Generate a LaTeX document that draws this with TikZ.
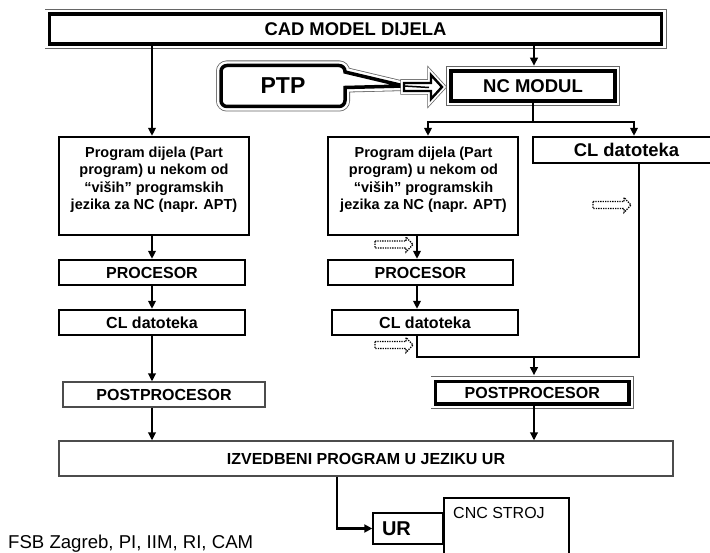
\documentclass[tikz,border=0pt]{standalone}
\usepackage{fontspec}
\setmainfont{Liberation Sans}
\usetikzlibrary{arrows.meta}
\tikzset{
  conn/.style={line width=2pt},
  arr/.style={line width=2pt,-{Triangle[length=8pt,width=7.5pt]}},
  box/.style={draw,line width=2.3pt,fill=white,inner sep=0pt,font=\fontsize{16}{19}\selectfont\bfseries},
  thinbox/.style={draw=black!70,line width=1.2pt,fill=white,inner sep=0pt,font=\fontsize{16}{19}\selectfont\bfseries},
  dblbox/.style={preaction={draw=black!60,line width=10pt},preaction={draw=white,line width=8.4pt},draw,fill=white,line width=3.5pt,inner sep=0pt},
  dblarrow/.style={preaction={draw=black!60,line width=7.5pt},preaction={draw=white,line width=6pt},draw,fill=white,line width=2.4pt},
  ptext/.style={inner sep=0pt,align=center,font=\fontsize{14.5}{17.5}\selectfont\bfseries},
  dotarr/.pic={\draw[line width=1.3pt,dash pattern=on 1.3pt off 1.1pt] (0,-3.5) -- (31,-3.5) -- (31,-7.5) -- (38,0) -- (31,7.5) -- (31,3.5) -- (0,3.5) -- cycle;}
}
\begin{document}
\begin{tikzpicture}[x=1pt,y=-1pt]
\useasboundingbox (0,0) rectangle (710,553);
\clip (0,0) rectangle (710,553);

% top
\node[dblbox,minimum width=612pt,minimum height=30pt,font=\fontsize{18.4}{22}\selectfont\bfseries] (cad) at (355.5,29) {CAD MODEL DIJELA};
\node[dblbox,minimum width=164pt,minimum height=30pt,font=\fontsize{18.5}{22}\selectfont\bfseries] (nc) at (533,86) {NC MODUL};

% PTP callout
\path[dblbox] (282,65.5) [rounded corners=6pt] -- (345,65.5) [sharp corners] -- (345,72) -- (404,86) -- (345,87.5) [rounded corners=6pt] -- (345,106.5) -- (221,106.5) -- (221,65.5) -- cycle;
\node[inner sep=0pt,font=\fontsize{23}{27}\selectfont\bfseries] (ptp) at (283,86) {PTP};
% block arrow PTP -> NC
\path[dblarrow] (404,83) -- (431,83) -- (431,75) -- (442,87) -- (431,99) -- (431,91) -- (404,91) -- cycle;
\draw[line width=1.5pt] (404,86) -- (429,87.5);

% left column
\node[box,minimum width=190pt,minimum height=98pt] (pl) at (154,186) {};
\node[ptext,anchor=north] (plt) at (154,146.5) {Program dijela (Part\\program) u nekom od\\“viših” programskih\\jezika za NC (napr. APT)};
\node[box,minimum width=186pt,minimum height=25pt] (procl) at (152,272.5) {PROCESOR};
\node[box,minimum width=186pt,minimum height=25pt] (cll) at (152,322.5) {CL datoteka};
\node[thinbox,minimum width=202pt,minimum height=25pt] (postl) at (164,394.5) {POSTPROCESOR};

% middle column
\node[box,minimum width=190pt,minimum height=98pt] (pr) at (423,186) {};
\node[ptext,anchor=north] (prt) at (423.5,146.5) {Program dijela (Part\\program) u nekom od\\“viših” programskih\\jezika za NC (napr. APT)};
\node[box,minimum width=185pt,minimum height=25pt] (procr) at (420.5,272.5) {PROCESOR};
\node[box,minimum width=186pt,minimum height=25pt] (clm) at (425,322.5) {CL datoteka};

% right column
\node[box,minimum width=187pt,minimum height=26pt,font=\fontsize{18.4}{22}\selectfont\bfseries] (clr) at (626.5,150) {CL datoteka};
\node[dblbox,minimum width=193.5pt,minimum height=22.5pt,font=\fontsize{16}{19}\selectfont\bfseries] (postr) at (532.25,392.75) {POSTPROCESOR};

% bottom
\node[thinbox,minimum width=614pt,minimum height=35pt] (izv) at (366,458.5) {IZVEDBENI PROGRAM U JEZIKU UR};
\node[draw,line width=1.5pt,minimum width=70pt,minimum height=31pt,text width=52pt,inner xsep=9pt,inner ysep=0pt,align=left,font=\fontsize{20}{24}\selectfont\bfseries] (ur) at (408,528.5) {UR};
\node[draw,line width=2pt,minimum width=125pt,minimum height=80pt,anchor=north west,inner sep=0pt] (cnc) at (443,497) {};
\node[anchor=base west,inner sep=0pt,font=\fontsize{16}{19}\selectfont] (cnct) at (453,518) {CNC STROJ};
\node[anchor=base west,inner sep=0pt,font=\fontsize{18.6}{22}\selectfont] (fsb) at (8,548) {FSB Zagreb, PI, IIM, RI, CAM};

% reference coordinates
\coordinate (xl) at (152,0);
\coordinate (xm) at (417,0);
\coordinate (xr) at (639,0);
\coordinate (xu) at (337,0);
\coordinate (bl) at (428,122);
\coordinate (brr) at (634,122);
\coordinate (jn) at (534,357);

% connectors
\draw[arr] (xl |- cad.south) -- (xl |- pl.north);
\draw[arr] (xl |- pl.south) -- (xl |- procl.north);
\draw[arr] (procl.south) -- (procl.south |- cll.north);
\draw[arr] (cll.south) -- (cll.south |- postl.north);
\draw[arr] (xl |- postl.south) -- (xl |- izv.north);

\draw[arr,shorten >=3.5pt] (jn |- cad.south) -- (jn |- nc.north);
\draw[arr] (nc.south) |- (bl) -- (bl |- pr.north);
\draw[arr] (nc.south |- bl) -| (brr |- clr.north);

\draw[arr] (xm |- pr.south) -- (xm |- procr.north);
\draw[arr] (xm |- procr.south) -- (xm |- clm.north);
\draw[conn] (xm |- clm.south) |- (xr |- jn) -- (xr |- clr.south);
\draw[arr,shorten >=4.5pt] (jn) -- (jn |- postr.north);
\draw[arr] (jn |- postr.south) -- (jn |- izv.north);

\draw[line width=2.5pt,-{Triangle[length=8pt,width=8pt]}] (xu |- izv.south) |- (ur.west);

% dotted hint arrows
\pic at (375,244.5) {dotarr};
\pic at (375,345) {dotarr};
\pic at (593,205) {dotarr};
\end{tikzpicture}
\end{document}
